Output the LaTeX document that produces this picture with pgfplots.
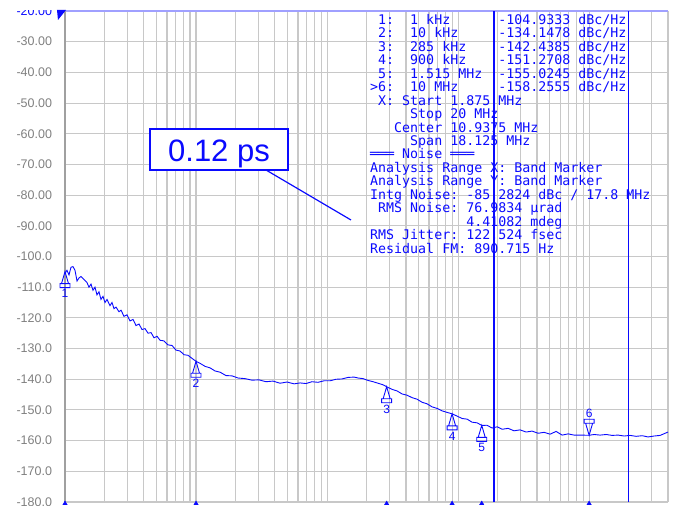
\documentclass[border=0pt]{standalone}
\usepackage{pgfplots}
\pgfplotsset{compat=1.18}
\usepackage{fontspec}
\setmainfont{Liberation Sans}
\newfontfamily\monofont{DejaVu Sans Mono}
\usetikzlibrary{calc}
\definecolor{mblue}{RGB}{10,10,255}
\definecolor{gridgray}{RGB}{200,200,200}
\definecolor{topblue}{RGB}{160,160,255}
\definecolor{lblgray}{RGB}{128,128,128}
\definecolor{leftgray}{RGB}{160,160,160}
\pgfdeclareplotmark{pnm}{%
  \pgfpathmoveto{\pgfqpoint{0bp}{0bp}}%
  \pgfpathlineto{\pgfqpoint{-3.5bp}{-12bp}}%
  \pgfpathlineto{\pgfqpoint{3.5bp}{-12bp}}%
  \pgfpathclose
  \pgfpathrectangle{\pgfqpoint{-5bp}{-16bp}}{\pgfqpoint{10bp}{4bp}}%
  \pgfusepathqstroke
}
\begin{document}
\begin{tikzpicture}
\begin{axis}[
  scale only axis, width=603bp, height=491bp,
  xmode=log, xmin=1000, xmax=4e7, ymin=-180, ymax=-20,
  xtick={1e3,1e4,1e5,1e6,1e7},
  minor xtick={2e3,3e3,4e3,5e3,6e3,7e3,8e3,9e3,2e4,3e4,4e4,5e4,6e4,7e4,8e4,9e4,2e5,3e5,4e5,5e5,6e5,7e5,8e5,9e5,2e6,3e6,4e6,5e6,6e6,7e6,8e6,9e6,2e7,3e7,4e7},
  xticklabels={},
  ytick={-180,-170,...,-20},
  yticklabels={-180.0,-170.0,-160.0,-150.0,-140.0,-130.0,-120.0,-110.0,-100.0,-90.00,-80.00,-70.00,-60.00,-50.00,-40.00,-30.00,\textcolor{mblue}{-20.00}},
  grid=both,
  major grid style={gridgray, line width=1.1bp},
  minor grid style={gridgray, line width=1.1bp},
  major tick length=0pt, minor tick length=0pt,
  axis line style={draw=none},
  yticklabel style={font=\fontsize{12.5bp}{12.5bp}\selectfont, text=lblgray, xshift=-9.5bp},
  clip=false,
]
\addplot[topblue, line width=1.3bp] coordinates {(1000,-20) (4e7,-20)};
\draw[leftgray, line width=1.6bp] (rel axis cs:0,0) -- (rel axis cs:0,1);
\addplot[mblue, line width=1.3bp] coordinates {(1.875e6,-180) (1.875e6,-20)};
\addplot[mblue, line width=1.3bp] coordinates {(2e7,-180) (2e7,-20)};
\addplot[mblue, line width=0.9bp] coordinates {
(1000,-105.5) (1035,-104.5) (1073,-106.0) (1111,-103.5) (1151,-103.3) (1192,-104.5)
(1235,-108.0) (1279,-107.0) (1325,-106.5) (1396,-107.5) (1472,-108.5) (1524,-110.0)
(1579,-109.0) (1635,-111.0) (1694,-110.0) (1754,-112.5) (1817,-111.5) (1882,-114.0)
(1950,-113.0) (2019,-115.0) (2092,-114.0) (2205,-116.0) (2284,-115.0) (2366,-117.0)
(2450,-116.5) (2583,-118.0) (2676,-117.5) (2820,-119.5) (2973,-119.0) (3134,-121.0)
(3304,-120.5) (3483,-122.5) (3672,-122.0) (3871,-123.8) (4081,-123.5) (4302,-125.0)
(4535,-124.8) (4781,-126.5) (5040,-126.0) (5313,-127.3) (5694,-127.5) (6110,-128.8)
(6558,-129.0) (7031,-130.5) (7549,-130.8) (8094,-132.0) (8690,-132.2) (9320,-133.2)
(10000,-134.15) (10730,-134.8) (11720,-135.8) (12800,-136.3) (13960,-137.3) (15250,-137.7)
(16940,-138.8) (18830,-138.9) (20930,-139.6) (23660,-139.8) (26740,-140.3) (30240,-140.2)
(34190,-140.8) (38710,-140.6) (43750,-141.3) (49510,-140.9) (55970,-141.5) (62230,-141.2)
(69180,-141.4) (76770,-140.8) (85310,-141.0) (94840,-140.5) (105400,-140.5) (117200,-140.0)
(130300,-139.9) (144500,-139.4) (160700,-139.3) (172600,-139.6) (188400,-139.8) (205600,-140.4)
(224400,-140.8) (244900,-141.3) (267300,-141.8) (285000,-142.44) (313400,-143.3) (342000,-143.8)
(373900,-144.8) (408300,-145.2) (445600,-146.0) (486400,-146.5) (530900,-147.5) (579500,-148.0)
(633400,-149.0) (691800,-149.5) (755100,-150.3) (824100,-150.8) (900000,-151.27) (982000,-152.0)
(1074000,-152.8) (1172000,-153.0) (1279000,-154.0) (1396000,-154.2) (1515000,-155.02) (1663000,-155.0)
(1820000,-155.9) (1986000,-155.5) (2168000,-156.3) (2410000,-156.0) (2673000,-156.8) (2972000,-156.5)
(3304000,-157.2) (3672000,-156.9) (4081000,-157.6) (4531000,-157.3) (5036000,-157.9) (5598000,-157.0)
(6223000,-158.2) (6918000,-157.8) (7680000,-158.2) (8536000,-158.2) (10000000,-158.26) (10920000,-158.0)
(12130000,-158.2) (13490000,-158.0) (14990000,-158.3) (16640000,-158.2) (18500000,-158.5) (20560000,-158.3)
(22860000,-158.6) (25410000,-158.4) (28180000,-158.8) (31330000,-158.5) (34830000,-158.3) (38020000,-157.6)
(40000000,-157.2)
};
\addplot[mblue, only marks, mark=pnm, line width=0.9bp,
  nodes near coords, point meta=explicit symbolic,
  every node near coord/.append style={anchor=north, yshift=-17.5bp, inner sep=0pt,
    font=\fontsize{12bp}{12bp}\selectfont, text=mblue}]
  coordinates {(1000,-104.9333)[1] (1e4,-134.1478)[2] (2.85e5,-142.4385)[3] (9e5,-151.2708)[4] (1.515e6,-155.0245)[5]};
\addplot[mblue, only marks, mark=pnm, line width=0.9bp, mark options={yscale=-1},
  nodes near coords, point meta=explicit symbolic,
  every node near coord/.append style={anchor=south, yshift=17.5bp, inner sep=0pt,
    font=\fontsize{12bp}{12bp}\selectfont, text=mblue}]
  coordinates {(1e7,-158.2555)[6]};
\addplot[mblue, only marks, mark=triangle*, mark size=2.5bp, mark options={yshift=-1.5bp}]
  coordinates {(1000,-180) (1e4,-180) (2.85e5,-180) (9e5,-180) (1.515e6,-180) (1e7,-180)};
\end{axis}
\begin{scope}[shift={($(current axis.south west)+(-65bp,502bp)$)}, x=1bp, y=-1bp]
\fill[white] (0,-2) rectangle (56,10);
\fill[mblue] (57,10) -- (66,10) -- (58,20) -- cycle;
\begin{scope}[every node/.style={anchor=base west, inner sep=0pt, text=mblue,
    font=\monofont\fontsize{13.3bp}{13.45bp}\selectfont}]
\node at (370,24.5)   {~1:~~1~kHz~~~~~~-104.9333~dBc/Hz};
\node at (370,37.95)  {~2:~~10~kHz~~~~~-134.1478~dBc/Hz};
\node at (370,51.4)   {~3:~~285~kHz~~~~-142.4385~dBc/Hz};
\node at (370,64.85)  {~4:~~900~kHz~~~~-151.2708~dBc/Hz};
\node at (370,78.3)   {~5:~~1.515~MHz~~-155.0245~dBc/Hz};
\node at (370,91.75)  {>6:~~10~MHz~~~~~-158.2555~dBc/Hz};
\node at (370,105.2)  {~X:~Start~1.875~MHz};
\node at (370,118.65) {~~~~~Stop~20~MHz};
\node at (370,132.1)  {~~~Center~10.9375~MHz};
\node at (370,145.55) {~~~~~Span~18.125~MHz};
\node at (370,159.0)  {═══~Noise~═══};
\node at (370,172.45) {Analysis~Range~X:~Band~Marker};
\node at (370,185.9)  {Analysis~Range~Y:~Band~Marker};
\node at (370,199.35) {Intg~Noise:~-85.2824~dBc~/~17.8~MHz};
\node at (370,212.8)  {~RMS~Noise:~76.9834~µrad};
\node at (370,226.25) {~~~~~~~~~~~~4.41082~mdeg};
\node at (370,239.7)  {RMS~Jitter:~122.524~fsec};
\node at (370,253.15) {Residual~FM:~890.715~Hz};
\end{scope}
\draw[mblue, line width=1.2bp] (266,170) -- (351,220);
\draw[mblue, line width=2bp, fill=white] (150.3,129.3) rectangle (288,169.7);
\node[anchor=base, inner sep=0pt, text=mblue, font=\fontsize{31bp}{31bp}\selectfont] at (219,161.5) {0.12 ps};
\end{scope}
\pgfresetboundingbox
\path[use as bounding box] ($(current axis.south west)+(-65bp,-4bp)$) rectangle ($(current axis.south west)+(608bp,502bp)$);
\end{tikzpicture}
\end{document}
